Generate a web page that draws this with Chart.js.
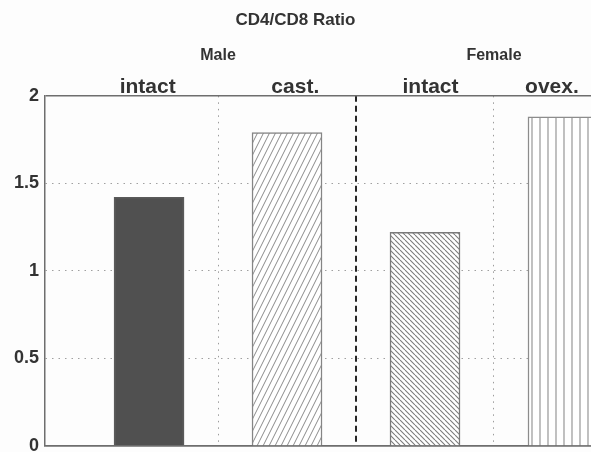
<!DOCTYPE html>
<html>
<head>
<meta charset="utf-8">
<title>CD4/CD8 Ratio</title>
<script src="https://cdn.jsdelivr.net/npm/chart.js@4.4.1/dist/chart.umd.min.js"></script>
<style>
  html, body { margin: 0; padding: 0; background: #fdfdfd; overflow: hidden; }
  canvas { display: block; }
</style>
</head>
<body>
<canvas id="chart" width="591" height="452"></canvas>
<script>
// values
const categories = ['intact', 'cast.', 'intact', 'ovex.'];
const groups = ['Male', 'Female'];
const ratios = [1.42, 1.79, 1.22, 1.88];
const yTickValues = [0, 0.5, 1, 1.5, 2];

const FONT = "'Liberation Sans', Arial, Helvetica, sans-serif";
const INK = '#333333';

// bar positions are just the category index (1..4), group centres sit between them
const barPos = categories.map((c, i) => i + 1);
// the printed labels don't sit exactly over their bars
const labelPos = [0.99, 2.06, 3.04, 3.92];
const groupPos = [1.5, 3.5];
const dividers = [1.5, 2.5, 3.5];

/** small repeating tile used as a hatch fill */
function makePattern(w, h, draw) {
  const c = document.createElement('canvas');
  c.width = w;
  c.height = h;
  const g = c.getContext('2d');
  g.fillStyle = '#ffffff';
  g.fillRect(0, 0, w, h);
  draw(g, w, h);
  return g.createPattern(c, 'repeat');
}

const solidDark = '#505050';

const hatchUp = makePattern(6, 12, (g, w, h) => {
  g.strokeStyle = '#8a8a8a';
  g.lineWidth = 1;
  g.beginPath();
  for (const dx of [-w, 0, w]) {
    g.moveTo(dx, h);
    g.lineTo(dx + w, 0);
  }
  g.stroke();
});

const hatchDown = makePattern(5, 5, (g, w, h) => {
  g.strokeStyle = '#7c7c7c';
  g.lineWidth = 1.1;
  g.beginPath();
  for (const dx of [-w, 0, w]) {
    g.moveTo(dx, 0);
    g.lineTo(dx + w, h);
  }
  g.stroke();
});

const stripes = makePattern(8, 4, (g, w, h) => {
  g.strokeStyle = '#a6a6a6';
  g.lineWidth = 1.4;
  g.beginPath();
  g.moveTo(4, 0);
  g.lineTo(4, h);
  g.stroke();
});

const fills = [solidDark, hatchUp, hatchDown, stripes];
const edges = ['#5a5a5a', '#858585', '#7a7a7a', '#8c8c8c'];

// shared horizontal range so the three x scales line up
const X_MIN = 0.246;
const X_MAX = 4.203;

function noSidePadding(scale) {
  scale.paddingLeft = 0;
  scale.paddingRight = 0;
}

const tickVal = ctx => (ctx && ctx.tick ? ctx.tick.value : null);
const isDivider = ctx => tickVal(ctx) === 2.5;
const isEdge = ctx => tickVal(ctx) === 0 || tickVal(ctx) === 2;
const isInner = ctx => tickVal(ctx) !== null && !isEdge(ctx);

new Chart(document.getElementById('chart'), {
  type: 'bar',
  data: {
    datasets: [{
      data: ratios.map((r, i) => ({x: barPos[i], y: r})),
      backgroundColor: fills,
      borderColor: edges,
      borderWidth: 1.5,
      barThickness: 70,
    }],
  },
  options: {
    responsive: false,
    animation: false,
    layout: {padding: 0},
    plugins: {
      legend: {display: false},
      tooltip: {enabled: false},
      title: {
        display: true,
        text: 'CD4/CD8 Ratio',
        color: INK,
        font: {family: FONT, size: 17, weight: 'bold'},
        padding: {top: 10, bottom: 3.6},
      },
    },
    scales: {
      x: {
        type: 'linear',
        position: 'bottom',
        offset: false,
        min: X_MIN,
        max: X_MAX,
        afterBuildTicks: s => { s.ticks = dividers.map(v => ({value: v})); },
        afterFit: noSidePadding,
        ticks: {display: false},
        grid: {
          offset: false,
          drawTicks: false,
          color: ctx => isDivider(ctx) ? '#262626' : '#9c9c9c',
          lineWidth: ctx => isDivider(ctx) ? 2 : 1,
        },
        border: {
          color: '#6e6e6e',
          width: 1.5,
          dash: ctx => tickVal(ctx) === null ? [] : (isDivider(ctx) ? [6, 4] : [1.5, 5]),
        },
      },
      cats: {
        type: 'linear',
        position: 'top',
        weight: 1,
        offset: false,
        min: X_MIN,
        max: X_MAX,
        afterBuildTicks: s => { s.ticks = labelPos.map(v => ({value: v})); },
        afterFit: noSidePadding,
        ticks: {
          callback: (v, i) => categories[i],
          color: INK,
          padding: 0,
          maxRotation: 0,
          autoSkip: false,
          font: {family: FONT, size: 21, weight: 'bold', lineHeight: 0.85},
        },
        grid: {display: false, offset: false, drawTicks: false},
        border: {display: false},
      },
      sexes: {
        type: 'linear',
        position: 'top',
        weight: 2,
        offset: false,
        min: X_MIN,
        max: X_MAX,
        afterBuildTicks: s => { s.ticks = groupPos.map(v => ({value: v})); },
        afterFit: noSidePadding,
        ticks: {
          callback: (v, i) => groups[i],
          color: INK,
          padding: 14,
          maxRotation: 0,
          autoSkip: false,
          font: {family: FONT, size: 16, weight: 'bold', lineHeight: 1},
        },
        grid: {display: false, offset: false, drawTicks: false},
        border: {display: false},
      },
      y: {
        min: 0,
        max: 2,
        afterBuildTicks: s => { s.ticks = yTickValues.map(v => ({value: v})); },
        afterFit: s => {
          s.width = 45;
          s.paddingBottom = 6;
        },
        ticks: {
          color: INK,
          padding: 6,
          callback: v => String(v),
          font: {family: FONT, size: 18, weight: 'bold', lineHeight: 0.7},
        },
        grid: {
          drawTicks: false,
          color: ctx => isInner(ctx) ? '#a0a0a0' : '#6e6e6e',
          lineWidth: ctx => isInner(ctx) ? 1 : 1.5,
        },
        border: {
          color: '#6e6e6e',
          width: 1.5,
          dash: ctx => isInner(ctx) ? [1.5, 5] : [],
        },
      },
    },
  },
});
</script>
</body>
</html>
